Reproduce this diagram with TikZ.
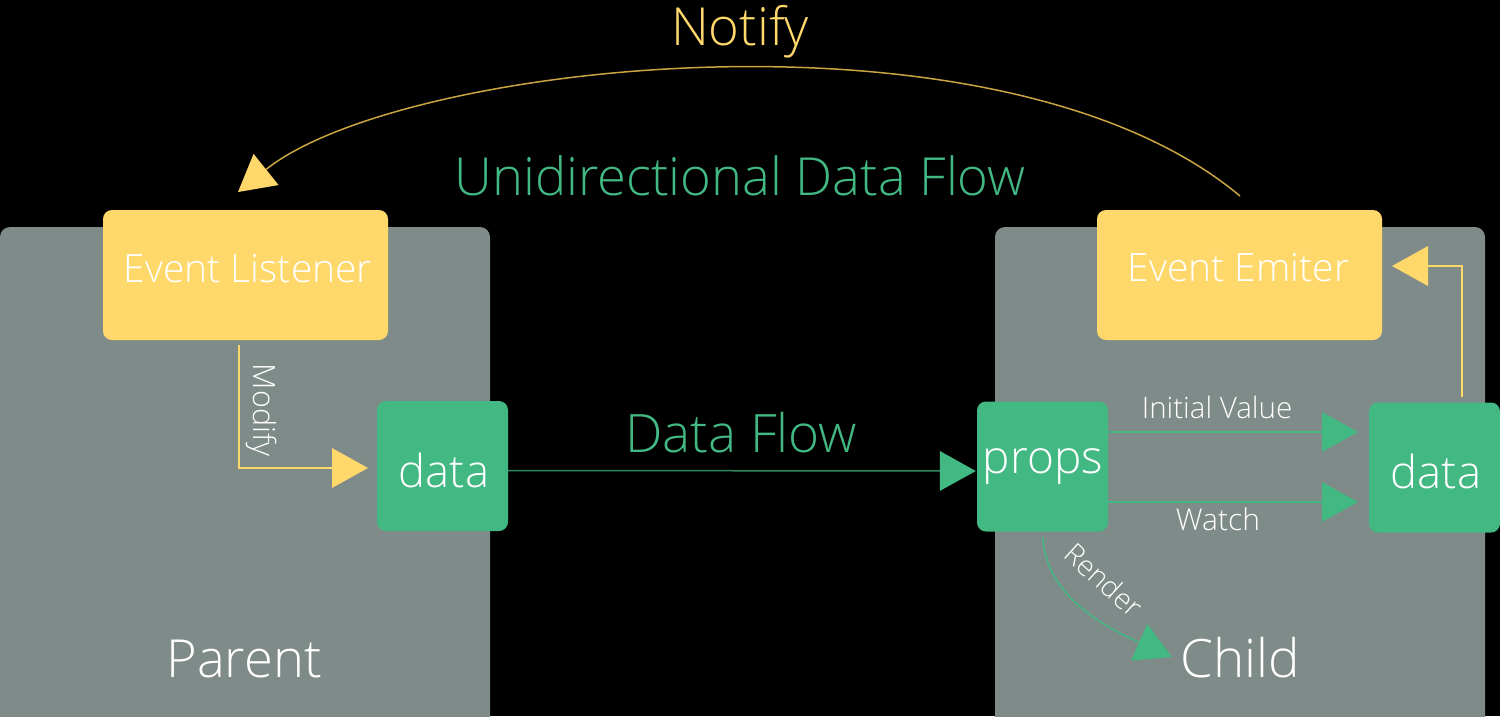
\documentclass[tikz,border=0pt]{standalone}
\usepackage{fontspec}
\setmainfont{Open Sans}[UprightFont={* Light}]
\usetikzlibrary{arrows.meta}
\definecolor{panelgray}{HTML}{7F8B89}
\definecolor{vyellow}{HTML}{FFD86B}
\definecolor{dyellow}{HTML}{C9A440}
\definecolor{vgreen}{HTML}{42B883}
\definecolor{dgreen}{HTML}{2F8A62}
\newcommand\myfs[1]{\fontsize{#1}{#1}\selectfont}
\begin{document}
\begin{tikzpicture}[x=1pt,y=-1pt,
  panel/.style={fill=panelgray, rounded corners=10pt},
  ybox/.style={fill=vyellow, rounded corners=9pt, minimum width=285pt, minimum height=130pt, inner sep=0pt},
  gbox/.style={fill=vgreen, rounded corners=9pt, minimum width=131pt, minimum height=130pt, inner sep=0pt},
  wtext/.style={text=white, inner sep=0pt, anchor=base},
  ytip/.style={draw=vyellow, line width=1.5pt, -{Triangle[length=36pt,width=40pt,color=vyellow,line width=0pt]}},
  gtip/.style={draw=vgreen, line width=1.5pt, -{Triangle[length=36pt,width=40pt,color=vgreen,line width=0pt]}}
]
\fill[black] (0,0) rectangle (1500,716);
\useasboundingbox (0,0) rectangle (1500,716);
\clip (0,0) rectangle (1500,716);

% panels
\fill[panel] (0,227) rectangle (490,760);
\fill[panel] (995,227) rectangle (1485,760);

% boxes
\node[ybox] (listener) at (245.5,275) {};
\node[ybox] (emitter) at (1239.5,275) {};
\node[gbox] (ldata) at (442.5,466) {};
\node[gbox] (props) at (1042.5,466.5) {};
\node[gbox] (rdata) at (1434.5,467.5) {};

% box texts
\node[wtext, font=\myfs{39}] (listenertxt) at (248,282) {Event Listener};
\node[wtext, font=\myfs{39}] (emittertxt) at (1238.5,281) {Event Emiter};
\node[wtext, font=\myfs{45.5}] (ldatatxt) at (444,487) {data};
\node[wtext, font=\myfs{46}] (propstxt) at (1043,473) {props};
\node[wtext, font=\myfs{45.5}] (rdatatxt) at (1436,488) {data};

% titles
\node[inner sep=0pt, anchor=base, text=vyellow, font=\myfs{52.5}] (notify) at (740,45) {Notify};
\node[inner sep=0pt, anchor=base, text=vgreen, font=\myfs{52.5}] (udf) at (740,195) {Unidirectional Data Flow};
\node[inner sep=0pt, anchor=base, text=vgreen, font=\myfs{53}] (dflow) at (741,452) {Data Flow};
\node[wtext, font=\myfs{52.5}] (parent) at (244,677) {Parent};
\node[wtext, font=\myfs{53}] (child) at (1240,677) {Child};

% small labels
\node[wtext, font=\myfs{29.5}] (initv) at (1217,418) {Initial Value};
\node[wtext, font=\myfs{30}] (watch) at (1218,530) {Watch};
\node[text=white, inner sep=0pt, font=\myfs{30.5}, rotate=-90] (modify) at (262,410) {Modify};
\node[text=white, inner sep=0pt, font=\myfs{28.5}, rotate=-42] (render) at (1104,580) {Render};

% connectors
\coordinate (nstart) at (1240,196);
\coordinate (ntip) at (238,192);
\draw[draw=dyellow, line width=1.5pt, -{Triangle[length=36pt,width=40pt,color=vyellow,line width=0pt]}]
  (nstart) .. controls (1000,-5) and (400,62) .. (ntip);

\coordinate (mstart) at (239,345);
\coordinate (mtip) at (368,468);
\draw[ytip] (mstart) |- (mtip);

\coordinate (estart) at (1462,397);
\coordinate (etip) at (1392,266);
\draw[ytip] (estart) |- (etip);

\draw[draw=dgreen, line width=1.5pt, -{Triangle[length=36pt,width=40pt,color=vgreen,line width=0pt]}]
  ([yshift=-4.5pt]ldata.east) -- ([yshift=-4.5pt,xshift=-1pt]props.west);

\coordinate (ivs) at (1108,432);
\coordinate (ivt) at (1358,432);
\draw[gtip] (ivs) -- (ivt);
\coordinate (ws) at (1108,502);
\coordinate (wt) at (1358,502);
\draw[gtip] (ws) -- (wt);

\coordinate (rs) at (1043,537);
\coordinate (rt) at (1172,657);
\draw[gtip] (rs) .. controls (1045,592) and (1098,624) .. (rt);
\end{tikzpicture}
\end{document}
